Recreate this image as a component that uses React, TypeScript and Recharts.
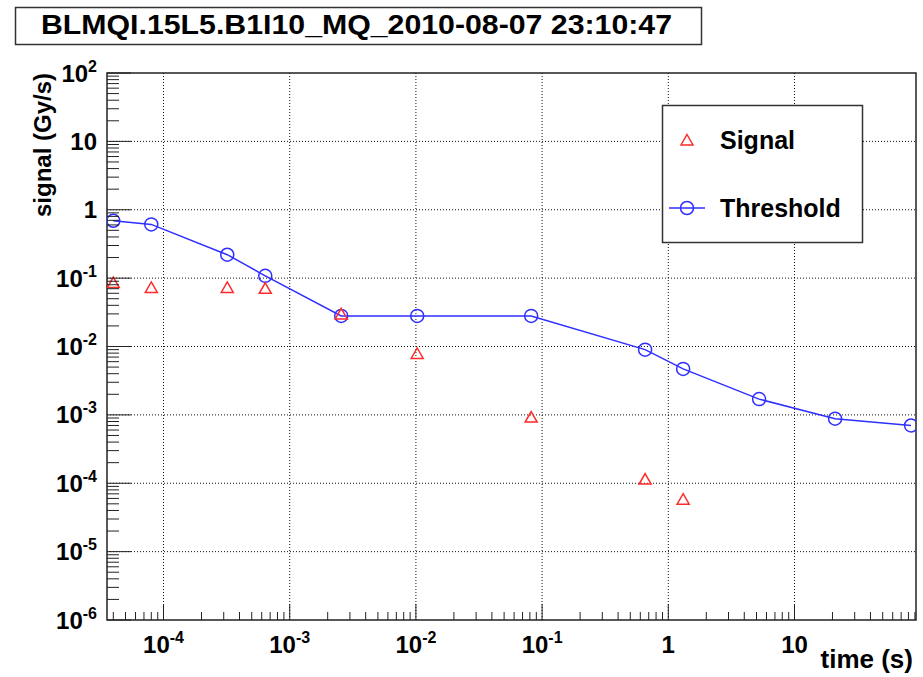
import React from "react";
import { ComposedChart, Line, XAxis, YAxis, ReferenceLine, ReferenceArea } from "recharts";

// BLM running sums (s) and the values
const times = [4e-5, 8e-5, 3.2e-4, 6.4e-4, 2.56e-3, 1.024e-2, 8.192e-2, 0.655, 1.311, 5.243, 20.97, 83.89];
const threshold = [0.69, 0.61, 0.22, 0.108, 0.028, 0.028, 0.028, 0.009, 0.0047, 0.0017, 0.00088, 0.0007];
const signal = [0.086, 0.073, 0.073, 0.071, 0.03, 0.0079, 0.00093, 0.000115, 0.0000585, null, null, null];

const xDomain = [3.566e-5, 91.8];
const yDomain = [1e-6, 100];
const xDecades = [1e-5, 1e-4, 1e-3, 1e-2, 1e-1, 1, 10];
const yDecades = [1e-6, 1e-5, 1e-4, 1e-3, 1e-2, 1e-1, 1, 10, 100];
const minorSteps = [2, 3, 4, 5, 6, 7, 8, 9];
const xGrid = [1e-4, 1e-3, 1e-2, 1e-1, 1, 10];
const yGrid = [1e-5, 1e-4, 1e-3, 1e-2, 1e-1, 1, 10];

const TITLE = "BLMQI.15L5.B1I10_MQ_2010-08-07 23:10:47";
const FONT = "'Liberation Sans', Arial, Helvetica, sans-serif";
const BLUE = "#2f2fff";
const RED = "#ff2a2a";

const data = times.map((t, i) => ({ t, threshold: threshold[i], signal: signal[i] }));

const withMinors = (decades: number[], dom: number[]) =>
  decades
    .flatMap((d) => [d, ...minorSteps.map((k) => k * d)])
    .filter((v) => v >= dom[0] * 0.999 && v <= dom[1] * 1.001);

const xTicks = withMinors(xDecades, xDomain);
const yTicks = withMinors(yDecades, yDomain);

const isMajor = (v: number) => {
  const l = Math.log10(v);
  return Math.abs(l - Math.round(l)) < 1e-6;
};

const TickLabel = ({ v, x, y, anchor }: { v: number; x: number; y: number; anchor: string }) => {
  const exp = Math.round(Math.log10(v));
  return (
    <text x={x} y={y} textAnchor={anchor} fontFamily={FONT} fontWeight="bold" fontSize={24} fill="#000">
      {exp === 0 ? "1" : exp === 1 ? "10" : (
        <>
          10
          <tspan dy={-10} fontSize={16}>{exp}</tspan>
        </>
      )}
    </text>
  );
};

const XTick = (props: any) => {
  const { x, y, payload } = props;
  const major = isMajor(payload.value);
  return (
    <g>
      <line x1={x} y1={y} x2={x} y2={y - (major ? 16 : 8)} stroke="#222" strokeWidth={1} />
      {major && <TickLabel v={payload.value} x={x} y={y + 33} anchor="middle" />}
    </g>
  );
};

const YTick = (props: any) => {
  const { x, y, payload } = props;
  const major = isMajor(payload.value);
  return (
    <g>
      <line x1={x} y1={y} x2={x + (major ? 24 : 12)} y2={y} stroke="#222" strokeWidth={1} />
      {major && <TickLabel v={payload.value} x={x - 10} y={y + 8.5} anchor="end" />}
    </g>
  );
};

const Circle = (props: any) => {
  const { cx, cy, value } = props;
  if (value == null || cx == null || cy == null) return <g />;
  return <circle cx={cx} cy={cy} r={6.5} fill="none" stroke={BLUE} strokeWidth={1.5} />;
};

const Triangle = (props: any) => {
  const { cx, cy, value } = props;
  if (value == null || cx == null || cy == null) return <g />;
  return (
    <path
      d={`M${cx},${cy - 5.5}L${cx + 6},${cy + 5}L${cx - 6},${cy + 5}Z`}
      fill="none"
      stroke={RED}
      strokeWidth={1.5}
    />
  );
};

export default function App() {
  return (
    <div style={{ position: "absolute", left: 0, top: 0, width: 923, height: 677, background: "#fff" }}>
      <ComposedChart width={923} height={677} data={data} margin={{ top: 73, right: 7, bottom: 0, left: 0 }}>
        <XAxis
          dataKey="t"
          type="number"
          scale="log"
          domain={xDomain}
          allowDataOverflow
          ticks={xTicks}
          interval={0}
          height={57}
          tickSize={0}
          tickMargin={0}
          tickLine={false}
          axisLine={false}
          tick={(p: any) => <XTick {...p} />}
        />
        <YAxis
          type="number"
          scale="log"
          domain={yDomain}
          allowDataOverflow
          ticks={yTicks}
          interval={0}
          width={107}
          tickSize={0}
          tickMargin={0}
          tickLine={false}
          axisLine={false}
          tick={(p: any) => <YTick {...p} />}
        />
        {xGrid.map((v) => (
          <ReferenceLine key={"gx" + v} x={v} stroke="#111" strokeDasharray="1 2" strokeWidth={1} />
        ))}
        {yGrid.map((v) => (
          <ReferenceLine key={"gy" + v} y={v} stroke="#111" strokeDasharray="1 2" strokeWidth={1} />
        ))}
        <ReferenceArea
          x1={xDomain[0]}
          x2={xDomain[1]}
          y1={yDomain[0]}
          y2={yDomain[1]}
          fill="none"
          fillOpacity={0}
          stroke="#222"
          strokeWidth={1.5}
        />
        <Line
          type="linear"
          dataKey="threshold"
          stroke={BLUE}
          strokeWidth={1.5}
          dot={(p: any) => <Circle key={"c" + p.index} {...p} />}
          isAnimationActive={false}
        />
        <Line
          type="linear"
          dataKey="signal"
          stroke="none"
          dot={(p: any) => <Triangle key={"s" + p.index} {...p} />}
          isAnimationActive={false}
          connectNulls={false}
        />
      </ComposedChart>

      <svg
        width={923}
        height={677}
        style={{ position: "absolute", left: 0, top: 0, pointerEvents: "none" }}
        fontFamily={FONT}
        fontWeight="bold"
      >
        <rect x={15.5} y={7.5} width={686} height={37} fill="#fff" stroke="#333" strokeWidth={1.5} />
        <text x={41} y={34} fontSize={28} textLength={631} lengthAdjust="spacingAndGlyphs" fill="#000">
          {TITLE}
        </text>

        <text x={51} y={145} fontSize={24} textAnchor="middle" transform="rotate(-90 51 145)" fill="#000">
          signal (Gy/s)
        </text>
        <text x={913} y={668} fontSize={26} textAnchor="end" fill="#000">
          time (s)
        </text>

        <rect x={662.5} y={105.5} width={200} height={137} fill="#fff" stroke="#333" strokeWidth={1.5} />
        <path d="M687,134.5L693,145L681,145Z" fill="none" stroke={RED} strokeWidth={1.5} />
        <text x={720} y={149} fontSize={25} fill="#000">Signal</text>
        <line x1={669} y1={208} x2={705} y2={208} stroke={BLUE} strokeWidth={1.5} />
        <circle cx={687} cy={208} r={6.5} fill="none" stroke={BLUE} strokeWidth={1.5} />
        <text x={720} y={217} fontSize={25} fill="#000">Threshold</text>
      </svg>
    </div>
  );
}
